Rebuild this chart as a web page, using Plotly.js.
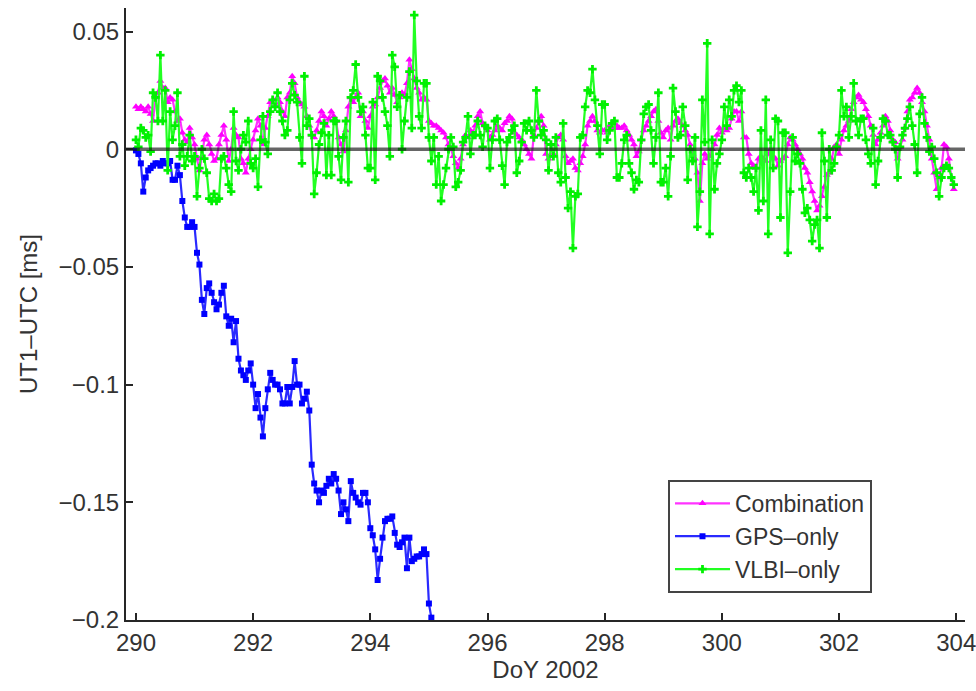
<!DOCTYPE html>
<html>
<head>
<meta charset="utf-8">
<script src="https://cdn.plot.ly/plotly-3.0.1.min.js"></script>
<style>html,body{margin:0;padding:0;background:#fff;}#chart{width:976px;height:691px;}</style>
</head>
<body>
<div id="chart"></div>
<script>
// hourly estimates, DoY 2002 starting at 290.0
const startDoY = 290;
const samplesPerDay = 24;

const combination = [
  0.018, 0.017, 0.018, 0.017, 0.016, 0.018, 0.015, 0.012, 0.022, 0.024, 0.029, 0.026, 0.026, 0.020, 0.022, 0.021, 0.016, 0.012, 0.013, 0.007, 0.004, 0.003, 0.009, 0.005,
  0.002, -0.004, -0.009, -0.003, 0.004, 0.006, 0.002, -0.002, -0.005, -0.004, 0.002, 0.006, 0.010, 0.004, -0.005, 0.000, 0.009, 0.006, 0.005, -0.004, -0.006, -0.010, -0.004, 0.000,
  0.004, 0.008, 0.013, 0.010, 0.002, 0.009, 0.014, 0.020, 0.021, 0.019, 0.022, 0.020, 0.016, 0.014, 0.022, 0.024, 0.031, 0.028, 0.022, 0.020, 0.019, 0.018, 0.014, 0.010,
  0.006, 0.005, 0.008, 0.012, 0.016, 0.014, 0.010, 0.013, 0.016, 0.014, 0.012, 0.005, 0.002, -0.001, 0.008, 0.018, 0.022, 0.020, 0.022, 0.024, 0.014, 0.016, 0.012, 0.009,
  0.014, 0.018, 0.019, 0.022, 0.026, 0.029, 0.030, 0.027, 0.024, 0.026, 0.023, 0.020, 0.022, 0.024, 0.023, 0.028, 0.038, 0.034, 0.030, 0.026, 0.024, 0.021, 0.022, 0.021,
  0.012, 0.011, 0.010, 0.010, 0.009, 0.008, 0.007, 0.005, 0.002, 0.000, -0.003, -0.006, -0.008, -0.004, 0.002, 0.006, 0.005, 0.008, 0.007, 0.010, 0.014, 0.016, 0.011, 0.010,
  0.008, 0.004, 0.006, 0.008, 0.010, 0.009, 0.008, 0.011, 0.012, 0.014, 0.013, 0.007, 0.006, 0.005, 0.004, 0.002, 0.000, -0.002, -0.004, 0.006, 0.009, 0.012, 0.014, 0.010,
  -0.002, -0.004, -0.003, -0.002, 0.002, 0.005, 0.006, 0.004, -0.003, -0.006, -0.005, -0.004, -0.008, -0.009, -0.006, -0.003, 0.002, 0.010, 0.012, 0.014, 0.012, 0.008, 0.007, 0.008,
  0.008, 0.007, 0.010, 0.009, 0.009, 0.010, 0.009, 0.009, 0.010, 0.008, 0.006, 0.004, 0.002, -0.003, -0.001, 0.004, 0.008, 0.010, 0.012, 0.014, 0.016, 0.017, 0.012, 0.007,
  0.005, 0.008, 0.009, 0.004, 0.010, 0.012, 0.013, 0.011, 0.010, 0.008, 0.006, 0.002, -0.002, -0.004, -0.010, -0.022, -0.006, -0.002, -0.004, -0.003, 0.000, 0.002, 0.006, 0.009,
  0.007, 0.009, 0.008, 0.009, 0.013, 0.016, 0.016, 0.012, 0.016, 0.005, 0.005, -0.002, -0.006, -0.007, -0.008, -0.004, -0.003, -0.004, -0.005, -0.002, 0.000, -0.003, -0.004, -0.007,
  -0.005, -0.004, -0.003, 0.002, 0.005, 0.004, 0.002, 0.000, -0.002, -0.004, -0.008, -0.010, -0.014, -0.018, -0.022, -0.026, -0.024, -0.020, -0.016, -0.011, -0.010, -0.004, 0.001, 0.002,
  -0.002, 0.004, 0.008, 0.010, 0.012, 0.017, 0.020, 0.022, 0.023, 0.021, 0.020, 0.017, 0.014, 0.010, 0.006, 0.002, 0.004, 0.007, 0.010, 0.014, 0.012, 0.008, 0.004, 0.003,
  -0.004, 0.001, 0.004, 0.009, 0.016, 0.021, 0.022, 0.024, 0.026, 0.024, 0.020, 0.016, 0.010, 0.004, -0.004, -0.010, -0.017, -0.012, -0.008, 0.002, 0.001, -0.004, -0.012, -0.017
];

const gpsOnly = [
  -0.0005, -0.002, -0.006, -0.018, -0.012, -0.009, -0.008, -0.007, -0.006, -0.006, -0.007, -0.005, -0.006, -0.006, -0.005, -0.013, -0.013, -0.007, -0.011, -0.022, -0.029, -0.033, -0.033, -0.031,
  -0.033, -0.044, -0.049, -0.064, -0.070, -0.059, -0.057, -0.061, -0.065, -0.068, -0.066, -0.061, -0.058, -0.071, -0.075, -0.072, -0.082, -0.073, -0.089, -0.094, -0.096, -0.098, -0.094, -0.091,
  -0.100, -0.110, -0.104, -0.114, -0.122, -0.110, -0.102, -0.095, -0.098, -0.100, -0.100, -0.102, -0.108, -0.108, -0.101, -0.108, -0.101, -0.090, -0.100, -0.100, -0.108, -0.106, -0.103, -0.111,
  -0.134, -0.142, -0.145, -0.150, -0.145, -0.146, -0.143, -0.140, -0.142, -0.138, -0.140, -0.145, -0.155, -0.150, -0.153, -0.158, -0.141, -0.146, -0.148, -0.150, -0.151, -0.146, -0.146, -0.150,
  -0.161, -0.164, -0.170, -0.183, -0.174, -0.165, -0.158, -0.157, -0.157, -0.156, -0.163, -0.168, -0.169, -0.167, -0.165, -0.178, -0.165, -0.175, -0.174, -0.173, -0.173, -0.172, -0.170, -0.172,
  -0.193, -0.199
];

const vlbiOnly = [
  0.004, 0.001, 0.009, 0.008, 0.005, 0.006, -0.001, 0.024, 0.022, 0.012, 0.040, 0.012, 0.025, -0.009, 0.016, 0.004, 0.010, 0.024, -0.003, 0.002, -0.007, -0.003, 0.006, -0.005,
  -0.003, -0.020, -0.008, 0.000, -0.004, -0.010, -0.021, -0.022, -0.019, -0.022, -0.021, -0.004, -0.003, -0.008, -0.015, -0.018, 0.016, -0.005, -0.009, 0.000, 0.006, 0.003, 0.012, -0.006,
  -0.008, -0.004, -0.016, 0.004, 0.014, 0.003, -0.002, 0.016, 0.021, 0.018, 0.024, 0.016, 0.012, 0.006, 0.008, 0.021, 0.028, 0.023, 0.020, 0.005, -0.006, 0.031, 0.010, 0.013,
  0.006, -0.019, -0.010, 0.002, 0.007, 0.011, -0.011, 0.006, -0.011, 0.012, 0.012, -0.003, -0.013, 0.005, 0.012, -0.014, 0.022, 0.025, 0.036, 0.022, 0.016, 0.018, 0.006, -0.008,
  -0.008, 0.020, -0.013, 0.031, 0.029, 0.022, 0.016, 0.010, -0.003, 0.040, 0.035, 0.018, 0.023, 0.000, 0.012, 0.022, 0.033, 0.009, 0.057, 0.029, 0.014, 0.009, 0.028, 0.028,
  0.005, -0.005, 0.005, -0.015, -0.003, -0.022, -0.015, -0.008, 0.000, 0.005, 0.001, -0.016, -0.014, -0.009, 0.003, 0.005, 0.014, -0.002, 0.006, 0.006, 0.012, 0.006, 0.001, 0.010,
  0.009, -0.008, 0.004, 0.012, 0.013, 0.004, -0.007, -0.015, 0.003, 0.005, 0.008, 0.010, -0.010, -0.005, 0.003, 0.011, 0.008, 0.012, 0.008, 0.005, 0.025, 0.012, 0.006, 0.008,
  0.004, -0.009, 0.002, -0.003, 0.005, -0.010, -0.014, 0.011, -0.012, -0.025, -0.018, -0.042, -0.020, -0.019, 0.005, 0.006, 0.018, 0.025, 0.024, 0.034, 0.021, 0.010, -0.002, 0.019,
  0.019, 0.004, 0.008, 0.011, 0.012, -0.012, -0.012, -0.006, 0.004, 0.006, -0.006, -0.010, -0.017, -0.013, -0.014, 0.004, 0.015, 0.018, 0.019, 0.008, -0.006, 0.005, 0.024, -0.014,
  -0.014, -0.008, -0.020, -0.003, 0.026, 0.016, 0.005, 0.006, 0.018, 0.010, -0.013, 0.000, -0.005, 0.005, -0.033, -0.018, 0.021, 0.003, 0.045, -0.036, 0.004, -0.017, -0.006, -0.002,
  0.004, 0.018, 0.010, 0.021, 0.014, 0.025, 0.027, 0.020, 0.025, -0.010, -0.012, -0.008, -0.012, -0.018, -0.008, -0.026, 0.008, -0.022, 0.021, -0.036, 0.004, -0.008, 0.013, 0.012,
  -0.029, 0.007, 0.007, -0.044, -0.018, 0.005, -0.005, -0.002, -0.006, -0.017, -0.027, -0.025, -0.030, -0.039, -0.032, -0.030, -0.042, 0.007, -0.005, -0.029, 0.000, -0.009, -0.006, 0.001,
  0.006, 0.025, 0.014, 0.018, 0.005, 0.014, 0.028, 0.012, 0.006, 0.013, 0.013, 0.004, -0.002, -0.006, 0.009, -0.015, -0.005, 0.005, 0.013, 0.012, 0.006, 0.006, 0.003, 0.000,
  -0.012, 0.001, 0.006, 0.009, 0.013, 0.018, 0.010, 0.002, -0.010, 0.015, 0.022, 0.011, 0.005, -0.001, 0.001, -0.004, -0.010, -0.020, -0.012, -0.008, -0.007, -0.008, -0.012, -0.015
];

const seriesNames = ['Combination', 'GPS\u2013only', 'VLBI\u2013only'];
const xTicks = [290, 292, 294, 296, 298, 300, 302, 304];
const yTicks = [0.05, 0, -0.05, -0.1, -0.15, -0.2];

function times(values) {
  return values.map((_, i) => startDoY + i / samplesPerDay);
}

const FONT = 'Liberation Sans, Arial, Helvetica, sans-serif';
const FS = 24;

const traces = [
  {
    x: times(combination), y: combination, name: seriesNames[0],
    type: 'scatter', mode: 'lines+markers',
    line: {color: '#ff33ff', width: 2.2},
    marker: {symbol: 'triangle-up', size: 7, color: '#ff00ff'}
  },
  {
    x: times(gpsOnly), y: gpsOnly, name: seriesNames[1],
    type: 'scatter', mode: 'lines+markers',
    line: {color: '#2a2aff', width: 2.2},
    marker: {symbol: 'square', size: 6, color: '#0000ff'}
  },
  {
    x: times(vlbiOnly), y: vlbiOnly, name: seriesNames[2],
    type: 'scatter', mode: 'lines+markers',
    line: {color: '#22ff22', width: 2.2},
    marker: {symbol: 'cross', size: 7, color: '#00f000'}
  }
];

const axisCommon = {
  showline: true, linecolor: '#262626', linewidth: 2,
  ticks: 'inside', ticklen: 7, tickwidth: 2, tickcolor: '#262626',
  showgrid: false, zeroline: false, mirror: false,
  ticklabeloverflow: 'allow',
  tickfont: {family: FONT, size: FS, color: '#333'}
};

const layout = {
  width: 976, height: 691,
  margin: {l: 126, r: 11, t: 8, b: 71},
  paper_bgcolor: '#fff', plot_bgcolor: '#fff',
  showlegend: true,
  font: {family: FONT, color: '#333'},
  xaxis: Object.assign({}, axisCommon, {
    range: [289.83, 304.15], tickvals: xTicks,
    title: {text: 'DoY 2002', font: {family: FONT, size: FS, color: '#333'}, standoff: 6}
  }),
  yaxis: Object.assign({}, axisCommon, {
    range: [-0.2, 0.06], tickvals: yTicks,
    title: {text: 'UT1\u2013UTC [ms]', font: {family: FONT, size: FS, color: '#333'}, standoff: 14}
  }),
  legend: {
    x: 0.646, y: 0.229, xanchor: 'left', yanchor: 'top',
    bgcolor: '#fff', bordercolor: '#444', borderwidth: 2,
    font: {family: FONT, size: 23, color: '#333'},
    itemwidth: 55,
    tracegroupgap: 0
  },
  shapes: [{
    type: 'line', xref: 'paper', x0: 0, x1: 1, yref: 'y', y0: 0, y1: 0,
    line: {color: 'rgba(20,20,20,0.65)', width: 3.5}, layer: 'above'
  }]
};

Plotly.newPlot('chart', traces, layout, {displayModeBar: false, staticPlot: true});
</script>
</body>
</html>
